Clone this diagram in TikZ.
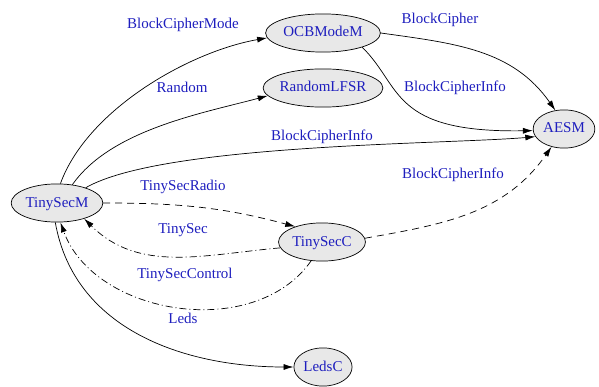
\documentclass[tikz,border=0pt]{standalone}
\usepackage{fontspec}
\setmainfont{Liberation Serif}
\usetikzlibrary{arrows.meta,shapes.geometric}
\definecolor{lblblue}{RGB}{30,30,190}

\begin{document}
\begin{tikzpicture}[x=1pt,y=1pt,>={Latex[length=10pt,width=6pt]},line width=0.7pt,
    comp/.style={ellipse,draw,fill=black!9,text=lblblue,inner xsep=1pt,inner ysep=6.5pt,
      text height=11pt,text depth=3pt,font=\fontsize{15}{17}\selectfont},
    lbl/.style={text=lblblue,font=\fontsize{15}{17}\selectfont},
    dsh/.style={dash pattern=on 7pt off 5pt},
    dshdot/.style={dash pattern=on 7pt off 3pt on 1pt off 3pt}]
      \useasboundingbox (0,0) rectangle (599,386);

      \node[comp] (TinySecM) at (57,183) {TinySecM};
      \node[comp] (OCBModeM) at (323,353) {OCBModeM};
      \node[comp,inner xsep=-1pt] (RandomLFSR) at (323,298) {RandomLFSR};
      \node[comp] (AESM) at (564,257) {AESM};
      \node[comp] (TinySecC) at (322,144) {TinySecC};
      \node[comp] (LedsC) at (323,19) {LedsC};

      \node[lbl] (lBCMode) at (183,361) {BlockCipherMode};
      \node[lbl] (lRandom) at (182,299) {Random};
      \node[lbl] (lBCInfoM) at (322,249) {BlockCipherInfo};
      \node[lbl] (lBC) at (440,366) {BlockCipher};
      \node[lbl] (lBCInfoO) at (455,298) {BlockCipherInfo};
      \node[lbl] (lBCInfoC) at (453,211) {BlockCipherInfo};
      \node[lbl] (lRadio) at (183,199) {TinySecRadio};
      \node[lbl] (lTinySec) at (183,156) {TinySec};
      \node[lbl] (lControl) at (185,111) {TinySecControl};
      \node[lbl] (lLeds) at (183,68) {Leds};

      \path[->]
      (TinySecM.80) edge [out=70,in=190,looseness=0.8] (OCBModeM.185)
      (TinySecM.50) edge [out=55,in=195,looseness=0.8] (RandomLFSR.188)
      (TinySecM.28) edge [out=30,in=185,looseness=0.5] (AESM.195)

      (OCBModeM.east) edge [out=-8,in=125] (AESM.115)
      (OCBModeM.-20) edge [to path={.. controls (402,300) and (390,253) .. (\tikztotarget)}] (AESM.183)

      (TinySecM.east) edge [dsh,out=0,in=165] (TinySecC.150)
      (TinySecC.188) edge [dshdot,out=185,in=-45] (TinySecM.-30)
      (TinySecC.5) edge [dsh,out=10,in=-125] (AESM.235)
      (TinySecC.240) edge [dshdot,out=235,in=-70] (TinySecM.-80)

      (TinySecM.-95) edge [out=-80,in=180] (LedsC.west)
      ;
\end{tikzpicture}
\end{document}
